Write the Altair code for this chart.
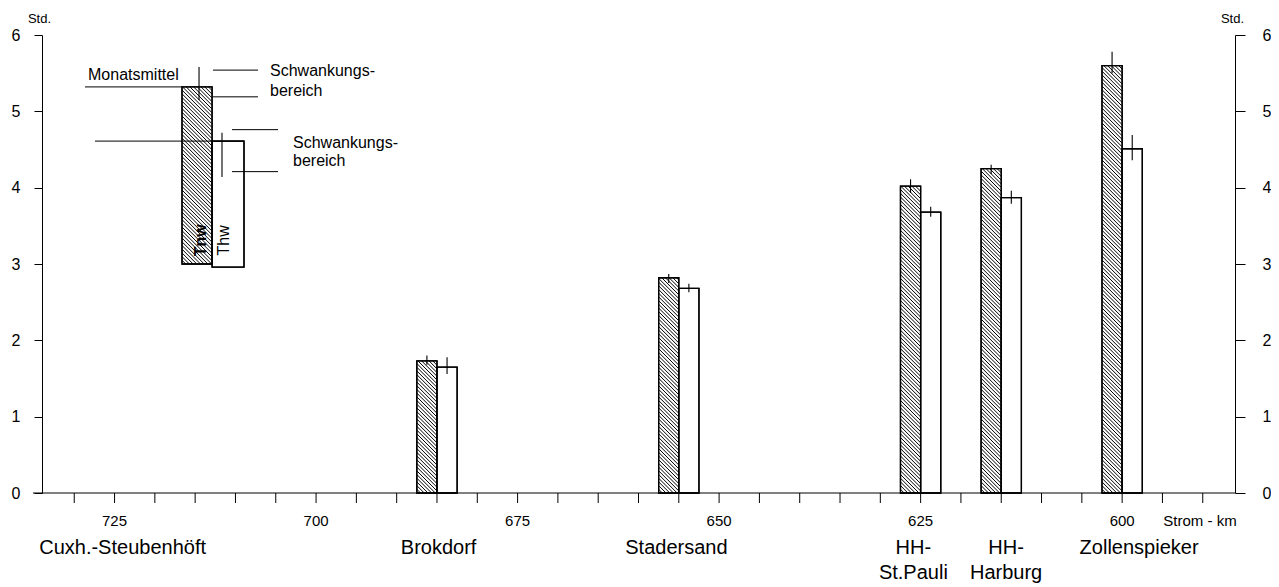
import altair as alt
import pandas as pd

# ---------------- data ----------------
station_line1 = ["Cuxh.-Steubenhöft", "Brokdorf", "Stadersand", "HH-", "HH-", "Zollenspieker"]
station_line2 = ["", "", "", "St.Pauli", "Harburg", ""]
station_km = [724.0, 684.8, 655.3, 625.9, 614.4, 597.9]

# bar stations (Strom-km at which the pair of bars meets)
bar_km = [685, 655, 625, 615, 600]
tnw = [1.73, 2.82, 4.02, 4.25, 5.60]
tnw_lo = [1.68, 2.75, 3.93, 4.18, 5.50]
tnw_hi = [1.80, 2.87, 4.11, 4.30, 5.78]
thw = [1.65, 2.68, 3.68, 3.87, 4.51]
thw_lo = [1.56, 2.63, 3.62, 3.79, 4.36]
thw_hi = [1.78, 2.74, 3.75, 3.96, 4.69]

x_ticks = list(range(590, 735, 5))
x_labels = [725, 700, 675, 650, 625, 600]
y_ticks = [i * 0.5 for i in range(13)]

# legend (explanation graphic, drawn in data units)
leg_bar_x = [716.63, 712.9, 708.94]
leg_tnw = [3.0, 5.32]
leg_thw = [2.96, 4.61]
leg_err_x = [714.52, 711.67]
leg_err_lo = [5.15, 4.14]
leg_err_hi = [5.58, 4.72]
leg_lines = [  # x1, x2, y
    (728.67, 716.63, 5.32),
    (712.79, 707.20, 5.54),
    (712.79, 707.20, 5.19),
    (727.43, 708.94, 4.61),
    (710.43, 704.72, 4.76),
    (710.43, 704.72, 4.21),
]
leg_texts = [  # text, x, y
    ("Monatsmittel", 728.29, 5.47),
    ("Schwankungs-", 705.71, 5.53),
    ("bereich", 705.71, 5.27),
    ("Schwankungs-", 702.86, 4.585),
    ("bereich", 702.86, 4.35),
]
leg_rot = [("Tnw", 714.27, 3.31), ("Thw", 711.42, 3.31)]

# ---------------- geometry / style ----------------
W, H = 1193, 458
KM_DOM = [586, 734]
Y_DOM = [0, 6]
PX_KM = W / (KM_DOM[1] - KM_DOM[0])
PX_H = H / (Y_DOM[1] - Y_DOM[0])
HALF = 2.5
FONT = "Liberation Sans"

xs = alt.Scale(domain=KM_DOM, reverse=True, nice=False, zero=False)
ys = alt.Scale(domain=Y_DOM, nice=False, zero=True)


def X(f, axis=None):
    return alt.X(f, type="quantitative", scale=xs, axis=axis)


def Y(f, axis=None):
    return alt.Y(f, type="quantitative", scale=ys, axis=axis)


# rectangles
rects = []
for k, a, b in zip(bar_km, tnw, thw):
    rects.append(dict(kind="tnw", xa=k + HALF, xb=k, y0=0.0, y1=a))
    rects.append(dict(kind="thw", xa=k, xb=k - HALF, y0=0.0, y1=b))
rects.append(dict(kind="tnw", xa=leg_bar_x[0], xb=leg_bar_x[1], y0=leg_tnw[0], y1=leg_tnw[1]))
rects.append(dict(kind="thw", xa=leg_bar_x[1], xb=leg_bar_x[2], y0=leg_thw[0], y1=leg_thw[1]))
rect_df = pd.DataFrame(rects)


# hatching lines for the Tnw rectangles (45 deg in screen space)
def hatch(r, step=3.7):
    w = (r["xa"] - r["xb"]) * PX_KM
    h = (r["y1"] - r["y0"]) * PX_H
    out = []
    c = -h
    while c < w:
        v0 = max(0.0, -c)
        v1 = min(h, w - c)
        if v1 > v0:
            out.append(dict(
                hx1=r["xa"] - (v0 + c) / PX_KM, hy1=r["y1"] - v0 / PX_H,
                hx2=r["xa"] - (v1 + c) / PX_KM, hy2=r["y1"] - v1 / PX_H))
        c += step
    return out


hl = []
for _, r in rect_df[rect_df.kind == "tnw"].iterrows():
    hl.extend(hatch(r))
hatch_df = pd.DataFrame(hl)

err = []
for k, lo, hi in zip(bar_km, tnw_lo, tnw_hi):
    err.append(dict(ex=k + HALF / 2, lo=lo, hi=hi))
for k, lo, hi in zip(bar_km, thw_lo, thw_hi):
    err.append(dict(ex=k - HALF / 2, lo=lo, hi=hi))
for x, lo, hi in zip(leg_err_x, leg_err_lo, leg_err_hi):
    err.append(dict(ex=x, lo=lo, hi=hi))
err_df = pd.DataFrame(err)

line_df = pd.DataFrame(leg_lines, columns=["lx1", "lx2", "ly"])
text_df = pd.DataFrame(leg_texts, columns=["t", "tx", "ty"])
rot_df = pd.DataFrame(leg_rot, columns=["t", "tx", "ty"])
st_df = pd.DataFrame(dict(s1=station_line1, s2=station_line2, sk=station_km))
tick_df = pd.DataFrame(dict(tk=x_ticks))
lab_df = pd.DataFrame(dict(lk=x_labels, lt=[str(v) for v in x_labels]))


def y_axis(orient, tick, pad):
    return alt.Axis(
        orient=orient, values=y_ticks, format="d",
        labelExpr="datum.value % 1 == 0 ? datum.label : ''",
        tickSize=tick, tickColor="black", domainColor="black", tickWidth=1, domainWidth=1,
        labelFont=FONT, labelFontSize=16, labelColor="black", labelPadding=pad,
        labelFlush=False, labelOverlap=False, grid=False,
        title="Std.", titleAngle=0, titleX=-3, titleY=-13, titleAlign="center",
        titleBaseline="alphabetic", titleFont=FONT, titleFontSize=13,
        titleFontWeight="normal", titleColor="black",
    )


# ---------------- layers ----------------
fill_layer = alt.Chart(rect_df).mark_rect(fill="white", stroke="black", strokeWidth=1.3).encode(
    x=X("xa"), x2="xb", y=Y("y0", axis=y_axis("left", 8, 14)), y2="y1",
)

hatch_layer = alt.Chart(hatch_df).mark_rule(color="black", strokeWidth=1).encode(
    x=X("hx1"), x2="hx2", y=Y("hy1"), y2="hy2",
)

outline_layer = alt.Chart(rect_df).mark_rect(fillOpacity=0, stroke="black", strokeWidth=1.3).encode(
    x=X("xa"), x2="xb", y=Y("y0"), y2="y1",
)

err_layer = alt.Chart(err_df).mark_rule(color="black", strokeWidth=1.1).encode(
    x=X("ex"), y=Y("lo", axis=y_axis("right", 10, 17)), y2="hi",
)

line_layer = alt.Chart(line_df).mark_rule(color="black", strokeWidth=1).encode(
    x=X("lx1"), x2="lx2", y=Y("ly"),
)

# Strom-km axis: line, ticks every 5 km, labels every 25 km
km_line = alt.Chart(tick_df.iloc[[0]]).mark_rule(color="black", strokeWidth=1).encode(
    x=alt.value(-9), x2=alt.value(W), y=alt.value(H),
)
km_ticks = alt.Chart(tick_df).mark_rule(color="black", strokeWidth=1).encode(
    x=X("tk"), y=alt.value(H), y2=alt.value(H + 10),
)
km_labels = alt.Chart(lab_df).mark_text(
    align="center", baseline="middle", font=FONT, fontSize=15, color="black"
).encode(x=X("lk"), y=alt.value(H + 28), text="lt:N")
km_title = alt.Chart(tick_df.iloc[[0]]).mark_text(
    align="center", baseline="middle", font=FONT, fontSize=15, color="black",
    text="Strom - km"
).encode(x=alt.value(1158), y=alt.value(H + 28))

text_layer = alt.Chart(text_df).mark_text(
    align="left", baseline="middle", font=FONT, fontSize=16, color="black"
).encode(x=X("tx"), y=Y("ty"), text="t:N")

rot_bold = alt.Chart(rot_df.iloc[[0]]).mark_text(
    align="center", baseline="middle", angle=270, font=FONT, fontSize=16,
    fontWeight="bold", color="black"
).encode(x=X("tx"), y=Y("ty"), text="t:N")

rot_plain = alt.Chart(rot_df.iloc[[1]]).mark_text(
    align="center", baseline="middle", angle=270, font=FONT, fontSize=16, color="black"
).encode(x=X("tx"), y=Y("ty"), text="t:N")

st1 = alt.Chart(st_df).mark_text(
    align="center", baseline="alphabetic", font=FONT, fontSize=20, color="black"
).encode(x=X("sk"), y=alt.value(H + 61), text="s1:N")

st2 = alt.Chart(st_df).mark_text(
    align="center", baseline="alphabetic", font=FONT, fontSize=20, color="black"
).encode(x=X("sk"), y=alt.value(H + 86), text="s2:N")

chart = alt.layer(
    fill_layer, hatch_layer, outline_layer, err_layer, line_layer,
    km_line, km_ticks, km_labels, km_title,
    text_layer, rot_bold, rot_plain, st1, st2,
).resolve_axis(y="independent").properties(
    width=W, height=H, background="white",
    autosize=alt.AutoSizeParams(type="none"),
    padding={"left": 34, "top": 27, "right": 36, "bottom": 94},
).configure_view(stroke=None)

chart.save("out.html", embed_options={"renderer": "svg", "actions": False})
